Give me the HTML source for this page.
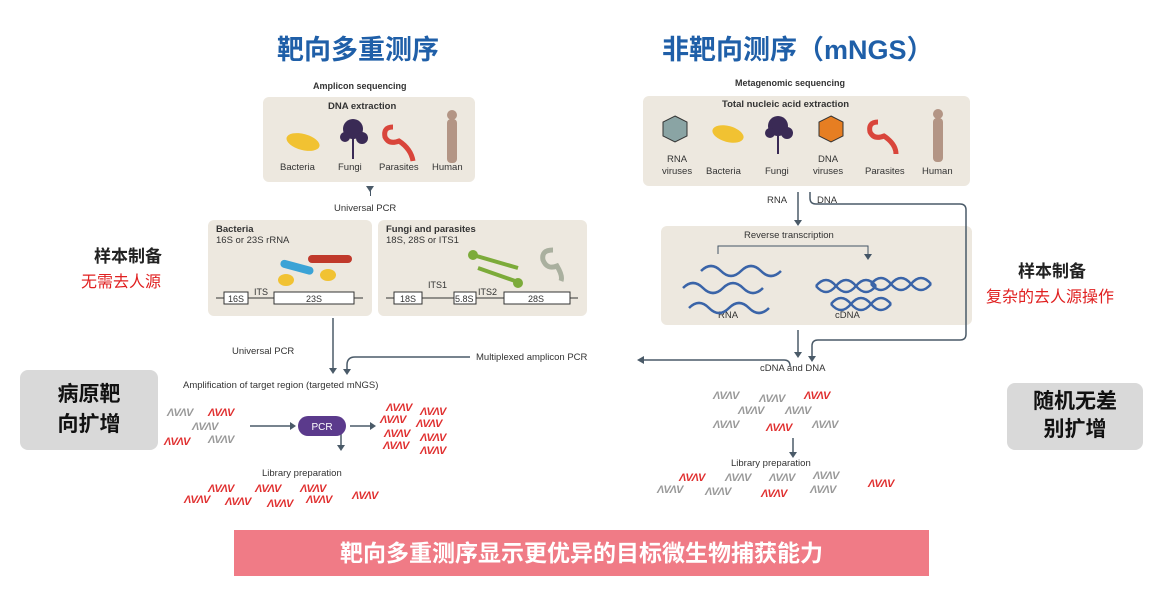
<!DOCTYPE html>
<html><head><meta charset="utf-8"><style>
body{margin:0;width:1166px;height:600px;background:#fff;position:relative;overflow:hidden;font-family:"Liberation Sans","Noto Sans CJK SC",sans-serif;}
.a{position:absolute;white-space:nowrap;}
.t{font-size:9.5px;color:#333;}
.b{font-weight:bold;}
.box{position:absolute;background:#ede8df;border-radius:6px;}
.h{position:absolute;font-weight:bold;font-style:italic;font-size:11px;letter-spacing:-1px;font-family:"Liberation Sans",sans-serif;}
.r{color:#e03030}.g{color:#999}.k{color:#444}
.cn{font-family:"Liberation Sans","Noto Sans CJK SC",sans-serif;}
</style></head><body>
<div class="a b" style="left:277px;top:28px;font-size:27px;color:#1f5fa8;">靶向多重测序</div>
<div class="a b" style="left:662px;top:28px;font-size:27px;color:#1f5fa8;">非靶向测序（mNGS）</div>

<div class="a t b" style="left:313px;top:81px;font-size:9px">Amplicon sequencing</div>
<div class="box" style="left:263px;top:97px;width:212px;height:85px"></div>
<div class="a t b" style="left:328px;top:101px">DNA extraction</div>
<svg class="a" style="left:263px;top:97px" width="212" height="85">
<ellipse cx="40" cy="45" rx="17" ry="8" fill="#f1c232" transform="rotate(15 40 45)"/>
<g fill="#3a2a55"><circle cx="90" cy="32" r="10"/><circle cx="82" cy="40" r="5"/><circle cx="99" cy="41" r="6"/><rect x="89" y="40" width="2" height="22"/></g>
<path d="M130 30 q-10 0 -8 10 q4 8 14 4 q12 8 14 20" stroke="#d9453b" stroke-width="5" fill="none"/>
<rect x="184" y="22" width="10" height="44" rx="4" fill="#b39585"/><circle cx="189" cy="18" r="5" fill="#b39585"/>
</svg>
<div class="a t" style="left:280px;top:162px">Bacteria</div>
<div class="a t" style="left:338px;top:162px">Fungi</div>
<div class="a t" style="left:379px;top:162px">Parasites</div>
<div class="a t" style="left:432px;top:162px">Human</div>
<div class="a" style="left:370px;top:186px;width:1px;height:10px;background:#456"></div>
<div class="a t" style="left:334px;top:203px">Universal PCR</div>

<div class="box" style="left:208px;top:220px;width:164px;height:96px"></div>
<div class="a t" style="left:216px;top:224px;line-height:11px"><b>Bacteria</b><br>16S or 23S rRNA</div>
<svg class="a" style="left:208px;top:220px" width="164" height="96">
<rect x="100" y="35" width="44" height="8" rx="4" fill="#c0392b"/>
<rect x="72" y="43" width="34" height="8" rx="4" fill="#3ba3d6" transform="rotate(15 88 47)"/>
<ellipse cx="78" cy="60" rx="8" ry="6" fill="#f1c232"/><ellipse cx="120" cy="55" rx="8" ry="6" fill="#f1c232"/>
<line x1="8" y1="78" x2="155" y2="78" stroke="#333"/>
<rect x="16" y="72" width="24" height="12" fill="#fff" stroke="#333"/><rect x="66" y="72" width="80" height="12" fill="#fff" stroke="#333"/>
<text x="20" y="82" font-size="9" fill="#333">16S</text><text x="98" y="82" font-size="9" fill="#333">23S</text>
<text x="46" y="75" font-size="9" fill="#333">ITS</text>
</svg>
<div class="box" style="left:378px;top:220px;width:209px;height:96px"></div>
<div class="a t" style="left:386px;top:224px;line-height:11px"><b>Fungi and parasites</b><br>18S, 28S or ITS1</div>
<svg class="a" style="left:378px;top:220px" width="209" height="96">
<line x1="95" y1="35" x2="140" y2="48" stroke="#7cab3a" stroke-width="4"/><circle cx="95" cy="35" r="5" fill="#7cab3a"/>
<line x1="100" y1="48" x2="140" y2="62" stroke="#7cab3a" stroke-width="4"/><circle cx="140" cy="63" r="5" fill="#7cab3a"/>
<path d="M175 30 q-12 0 -10 10 q4 10 14 6 q6 10 4 15" stroke="#aab09f" stroke-width="5" fill="none"/>
<line x1="8" y1="78" x2="200" y2="78" stroke="#333"/>
<rect x="16" y="72" width="28" height="12" fill="#fff" stroke="#333"/><rect x="76" y="72" width="22" height="12" fill="#fff" stroke="#333"/><rect x="126" y="72" width="66" height="12" fill="#fff" stroke="#333"/>
<text x="22" y="82" font-size="9" fill="#333">18S</text><text x="77" y="82" font-size="9" fill="#333">5.8S</text><text x="150" y="82" font-size="9" fill="#333">28S</text>
<text x="50" y="68" font-size="9" fill="#333">ITS1</text><text x="100" y="75" font-size="9" fill="#333">ITS2</text>
</svg>

<div class="a b" style="left:94px;top:242px;font-size:17px;color:#222">样本制备</div>
<div class="a" style="left:81px;top:268px;font-size:16px;color:#e02020">无需去人源</div>
<div class="a b" style="left:20px;top:370px;width:138px;height:80px;background:#d9d9d9;border-radius:8px;font-size:21px;color:#111;text-align:center;line-height:30px;padding-top:10px;box-sizing:border-box;white-space:normal">病原靶<br>向扩增</div>

<div class="a b" style="left:1018px;top:257px;font-size:17px;color:#222">样本制备</div>
<div class="a" style="left:986px;top:283px;font-size:16px;color:#e02020">复杂的去人源操作</div>
<div class="a b" style="left:1007px;top:383px;width:136px;height:67px;background:#d9d9d9;border-radius:8px;font-size:21px;color:#111;text-align:center;line-height:28px;padding-top:5px;box-sizing:border-box;white-space:normal">随机无差<br>别扩增</div>

<!-- right -->
<div class="a t b" style="left:735px;top:78px;font-size:9px">Metagenomic sequencing</div>
<div class="box" style="left:643px;top:96px;width:327px;height:90px"></div>
<div class="a t b" style="left:722px;top:99px">Total nucleic acid extraction</div>
<svg class="a" style="left:643px;top:96px" width="327" height="90">
<polygon points="32,20 44,26 44,40 32,46 20,40 20,26" fill="#8aa4a4" stroke="#333"/>
<ellipse cx="85" cy="38" rx="16" ry="8" fill="#f1c232" transform="rotate(15 85 38)"/>
<g fill="#3a2a55"><circle cx="135" cy="30" r="10"/><circle cx="127" cy="37" r="5"/><circle cx="144" cy="37" r="6"/><rect x="134" y="38" width="2" height="20"/></g>
<polygon points="188,20 200,26 200,40 188,46 176,40 176,26" fill="#e67e22" stroke="#333"/>
<path d="M235 26 q-10 0 -8 10 q4 8 14 4 q12 8 12 18" stroke="#d9453b" stroke-width="5" fill="none"/>
<rect x="290" y="22" width="10" height="44" rx="4" fill="#b39585"/><circle cx="295" cy="18" r="5" fill="#b39585"/>
</svg>
<div class="a t" style="left:662px;top:154px;text-align:center;line-height:12px">RNA<br>viruses</div>
<div class="a t" style="left:706px;top:166px">Bacteria</div>
<div class="a t" style="left:765px;top:166px">Fungi</div>
<div class="a t" style="left:813px;top:154px;text-align:center;line-height:12px">DNA<br>viruses</div>
<div class="a t" style="left:865px;top:166px">Parasites</div>
<div class="a t" style="left:922px;top:166px">Human</div>
<div class="a t" style="left:767px;top:195px">RNA</div>
<div class="a t" style="left:817px;top:195px">DNA</div>

<div class="box" style="left:661px;top:226px;width:311px;height:99px"></div>
<div class="a t" style="left:744px;top:230px">Reverse transcription</div>
<div class="a t" style="left:718px;top:310px">RNA</div>
<div class="a t" style="left:835px;top:310px">cDNA</div>
<svg class="a" style="left:661px;top:226px" width="311" height="99">
<path d="M57 28 v-8 h150 v10" stroke="#456" fill="none"/><polygon points="203,28 211,28 207,34" fill="#456"/>
<g stroke="#3a64a8" stroke-width="2.5" fill="none">
<path d="M22 62 q10 -10 20 0 t20 0 t20 0 t20 0"/>
<path d="M40 45 q10 -10 20 0 t20 0 t20 0 t20 0"/>
<path d="M28 82 q10 -10 20 0 t20 0 t20 0 t20 0"/>
<path d="M155 60 q10 -12 20 0 t20 0 t20 0"/><path d="M155 60 q10 12 20 0 t20 0 t20 0"/>
<path d="M170 78 q10 -12 20 0 t20 0 t20 0"/><path d="M170 78 q10 12 20 0 t20 0 t20 0"/>
<path d="M210 58 q10 -12 20 0 t20 0 t20 0"/><path d="M210 58 q10 12 20 0 t20 0 t20 0"/>
</g></svg>

<svg class="a" style="left:0;top:0" width="1166" height="600">
<g stroke="#4a5a68" stroke-width="1.5" fill="none">
<line x1="798" y1="192" x2="798" y2="220"/>
<path d="M810 192 v6 q0 6 6 6 h144 q6 0 6 6 v124 q0 6 -6 6 h-142 q-6 0 -6 6 v12"/>
<line x1="798" y1="330" x2="798" y2="352"/>
<line x1="333" y1="318" x2="333" y2="368"/>
<path d="M470 357 h-115 q-8 0 -8 8 v4"/>
<path d="M790 366 q0 -6 -6 -6 h-140"/>
<line x1="341" y1="426" x2="341" y2="445"/>
<line x1="250" y1="426" x2="290" y2="426"/>
<line x1="350" y1="426" x2="370" y2="426"/>
<line x1="793" y1="438" x2="793" y2="452"/>
</g>
<g fill="#4a5a68">
<polygon points="794,220 802,220 798,226"/><polygon points="808,356 816,356 812,362"/>
<polygon points="794,352 802,352 798,358"/><polygon points="329,368 337,368 333,374"/>
<polygon points="343,369 351,369 347,375"/><polygon points="644,356 644,364 637,360"/>
<polygon points="337,445 345,445 341,451"/><polygon points="290,422 290,430 296,426"/>
<polygon points="370,422 370,430 376,426"/><polygon points="789,452 797,452 793,458"/>
<polygon points="366,186 374,186 370,192"/>
</g>
<rect x="298" y="416" width="48" height="20" rx="10" fill="#5b3a8c"/>
<text x="322" y="430" font-size="10" fill="#fff" text-anchor="middle" font-family="Liberation Sans">PCR</text>
</svg>
<div class="a t" style="left:232px;top:346px">Universal PCR</div>
<div class="a t" style="left:476px;top:352px">Multiplexed amplicon PCR</div>
<div class="a t" style="left:760px;top:363px">cDNA and DNA</div>
<div class="a t" style="left:183px;top:380px">Amplification of target region (targeted mNGS)</div>
<div class="a t" style="left:262px;top:468px">Library preparation</div>
<div class="a t" style="left:731px;top:458px">Library preparation</div>

<div class="h g" style="left:167px;top:407px">ΛVΛV</div><div class="h r" style="left:208px;top:407px">ΛVΛV</div>
<div class="h g" style="left:192px;top:421px">ΛVΛV</div>
<div class="h r" style="left:164px;top:436px">ΛVΛV</div><div class="h g" style="left:208px;top:434px">ΛVΛV</div>
<div class="h r" style="left:386px;top:402px">ΛVΛV</div><div class="h r" style="left:420px;top:406px">ΛVΛV</div>
<div class="h r" style="left:380px;top:414px">ΛVΛV</div><div class="h r" style="left:416px;top:418px">ΛVΛV</div>
<div class="h r" style="left:384px;top:428px">ΛVΛV</div><div class="h r" style="left:420px;top:432px">ΛVΛV</div>
<div class="h r" style="left:383px;top:440px">ΛVΛV</div><div class="h r" style="left:420px;top:445px">ΛVΛV</div>
<div class="h r" style="left:208px;top:483px">ΛVΛV</div><div class="h r" style="left:255px;top:483px">ΛVΛV</div><div class="h r" style="left:300px;top:483px">ΛVΛV</div>
<div class="h r" style="left:184px;top:494px">ΛVΛV</div><div class="h r" style="left:225px;top:496px">ΛVΛV</div><div class="h r" style="left:267px;top:498px">ΛVΛV</div><div class="h r" style="left:306px;top:494px">ΛVΛV</div><div class="h r" style="left:352px;top:490px">ΛVΛV</div>
<div class="h g" style="left:713px;top:390px">ΛVΛV</div><div class="h g" style="left:759px;top:393px">ΛVΛV</div><div class="h r" style="left:804px;top:390px">ΛVΛV</div>
<div class="h g" style="left:738px;top:405px">ΛVΛV</div><div class="h g" style="left:785px;top:405px">ΛVΛV</div>
<div class="h g" style="left:713px;top:419px">ΛVΛV</div><div class="h r" style="left:766px;top:422px">ΛVΛV</div><div class="h g" style="left:812px;top:419px">ΛVΛV</div>
<div class="h r" style="left:679px;top:472px">ΛVΛV</div><div class="h g" style="left:725px;top:472px">ΛVΛV</div><div class="h g" style="left:769px;top:472px">ΛVΛV</div><div class="h g" style="left:813px;top:470px">ΛVΛV</div>
<div class="h g" style="left:657px;top:484px">ΛVΛV</div><div class="h g" style="left:705px;top:486px">ΛVΛV</div><div class="h r" style="left:761px;top:488px">ΛVΛV</div><div class="h g" style="left:810px;top:484px">ΛVΛV</div><div class="h r" style="left:868px;top:478px">ΛVΛV</div>

<div class="a b" style="left:234px;top:530px;width:695px;height:46px;background:#f07b86;color:#fff;font-size:23px;text-align:center;line-height:46px">靶向多重测序显示更优异的目标微生物捕获能力</div>
</body></html>
